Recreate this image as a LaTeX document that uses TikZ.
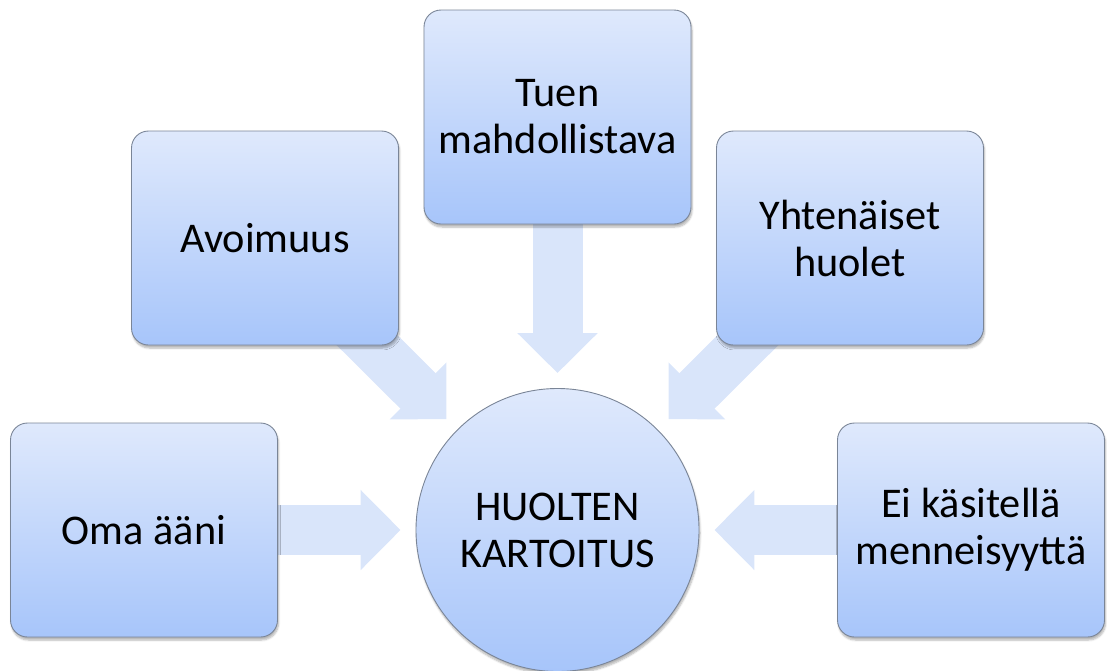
\documentclass[tikz,border=0pt]{standalone}
\usepackage{fontspec}
\setmainfont{Carlito}
\usetikzlibrary{arrows.meta,backgrounds,shadows.blur}
\definecolor{boxtop}{HTML}{DFE9FC}
\definecolor{boxbottom}{HTML}{A7C5FA}
\definecolor{boxline}{HTML}{7A8597}
\definecolor{arrowfill}{HTML}{D9E5FA}
\begin{document}
\begin{tikzpicture}[x=1pt,y=-1pt]
        \useasboundingbox (0,0) rectangle (1107,670);
        \begin{scope}[every node/.style={draw=boxline,line width=0.9pt,top color=boxtop,bottom color=boxbottom,
                blur shadow={shadow xshift=1pt,shadow yshift=-3pt,shadow opacity=30,shadow blur steps=6},
                align=center,inner sep=0pt,font=\fontsize{42.3}{47}\selectfont}]
            \node[circle,minimum size=283pt] (kart) at (557.5, 530) {HUOLTEN\\KARTOITUS};
        \end{scope}
        \begin{scope}[every node/.style={draw=boxline,line width=0.9pt,top color=boxtop,bottom color=boxbottom,
                blur shadow={shadow xshift=1pt,shadow yshift=-3pt,shadow opacity=30,shadow blur steps=6},
                rounded corners=17pt,minimum width=267pt,minimum height=214pt,
                align=center,inner sep=0pt,font=\fontsize{42.3}{47}\selectfont}]
            \node (oma) at (144, 530) {Oma ääni};
            \node (avoin) at (265, 238) {Avoimuus};
            \node (tuen) at (557.5, 117) {Tuen\\mahdollistava};
            \node (yhten) at (850, 238) {Yhtenäiset\\huolet};
            \node (ei) at (971, 530) {Ei käsitellä\\menneisyyttä};
        \end{scope}
        \begin{pgfonlayer}{background}
        \begin{scope}[every edge/.style={draw=arrowfill,line width=50pt,-{Triangle[width=78pt,length=40pt]},
                shorten >=15pt,shorten <=-60pt}]
            \path
                (oma) edge (kart)
                (avoin) edge (kart)
                (tuen) edge (kart)
                (yhten) edge (kart)
                (ei) edge (kart);
        \end{scope}
        \end{pgfonlayer}
    \end{tikzpicture}
\end{document}
